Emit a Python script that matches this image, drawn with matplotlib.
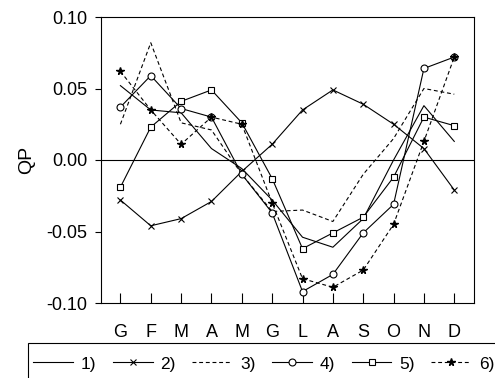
import matplotlib
matplotlib.use("Agg")
import matplotlib.pyplot as plt
from matplotlib.patches import Rectangle

plt.rcParams['font.family'] = ['Liberation Sans', 'DejaVu Sans']

# mesi
mesi = ['G', 'F', 'M', 'A', 'M', 'G', 'L', 'A', 'S', 'O', 'N', 'D']
etichette = ['1)', '2)', '3)', '4)', '5)', '6)']

s1 = [0.052, 0.035, 0.033, 0.008, -0.006, -0.028, -0.054, -0.061, -0.041, 0.000, 0.038, 0.013]
s2 = [-0.028, -0.046, -0.041, -0.029, -0.008, 0.011, 0.035, 0.049, 0.039, 0.025, 0.008, -0.021]
s3 = [0.025, 0.082, 0.026, 0.021, -0.010, -0.036, -0.035, -0.043, -0.010, 0.015, 0.050, 0.046]
s4 = [0.037, 0.059, 0.036, 0.030, -0.010, -0.037, -0.092, -0.080, -0.051, -0.031, 0.064, 0.072]
s5 = [-0.019, 0.023, 0.041, 0.049, 0.026, -0.013, -0.062, -0.051, -0.040, -0.012, 0.030, 0.024]
s6 = [0.062, 0.035, 0.011, 0.030, 0.025, -0.030, -0.083, -0.089, -0.077, -0.045, 0.013, 0.072]

x = list(range(len(mesi)))
tratteggio = (0, (3.5, 2.5))

fig = plt.figure(figsize=(4.95, 3.78), dpi=100)
ax = fig.add_axes([101/495, 1 - 303/378, 373/495, 286/378])

lw = 0.8
ax.plot(x, s1, color='black', lw=lw, label=etichette[0])
ax.plot(x, s2, color='black', lw=lw, marker='x', ms=5, mew=0.8, label=etichette[1])
ax.plot(x, s3, color='black', lw=lw, linestyle=tratteggio, label=etichette[2])
ax.plot(x, s4, color='black', lw=lw, marker='o', ms=5, mfc='white', mew=0.8, label=etichette[3])
ax.plot(x, s5, color='black', lw=lw, marker='s', ms=5, mfc='white', mew=0.8, label=etichette[4])
ax.plot(x, s6, color='black', lw=lw, linestyle=tratteggio, marker='*', ms=5.5, label=etichette[5])

ax.axhline(0, color='black', lw=0.8)

ax.set_xlim(-0.64, 11.65)
ax.set_ylim(-0.10, 0.10)
ax.set_xticks(x)
ax.set_xticklabels(mesi)
ax.set_yticks([-0.10, -0.05, 0.00, 0.05, 0.10])
ax.set_yticklabels(['-0.10', '-0.05', '0.00', '0.05', '0.10'])
ax.tick_params(axis='x', direction='in', length=7, width=0.8, labelsize=13, pad=15)
ax.tick_params(axis='y', direction='out', length=4, width=0.8, labelsize=13, pad=6)
ax.set_ylabel('QP', fontsize=14, labelpad=8)

for s in ax.spines.values():
    s.set_linewidth(0.8)

# riquadro della legenda, tagliato dal bordo della figura
fig.patches.append(Rectangle((28/495, -0.2), 1.0, 1 - 343/378 + 0.2,
                             transform=fig.transFigure, fill=False,
                             edgecolor='black', lw=0.8))

leg = fig.legend(loc='center left', bbox_to_anchor=(33/495, 1 - 364/378),
                 ncol=6, fontsize=12.5, frameon=False,
                 handlelength=2.3, handletextpad=0.45,
                 columnspacing=0.95, borderpad=0, numpoints=1, borderaxespad=0)

fig.savefig('out.png', dpi=100)
